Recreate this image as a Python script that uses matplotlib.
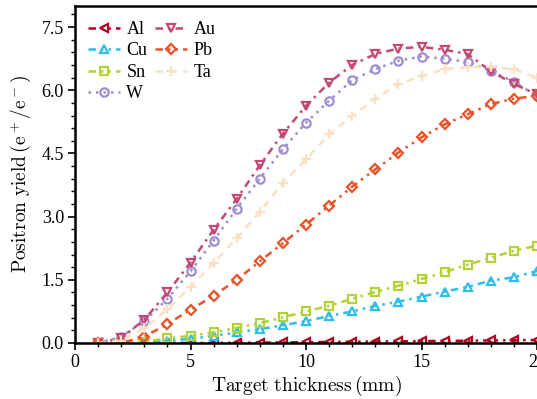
import matplotlib
matplotlib.use("Agg")
import matplotlib.pyplot as plt
from matplotlib.ticker import MultipleLocator

plt.rcParams['font.family'] = ['Liberation Serif', 'DejaVu Serif']
plt.rcParams['mathtext.fontset'] = 'cm'

thickness = list(range(1, 21))
al = [0, 0, 0, 0, 0, 0, 0.005, 0.01, 0.015, 0.02, 0.025, 0.03, 0.035, 0.04, 0.045, 0.05, 0.055, 0.06, 0.065, 0.07]
cu = [0, 0, 0.01, 0.05, 0.10, 0.17, 0.25, 0.33, 0.42, 0.52, 0.64, 0.75, 0.88, 0.98, 1.10, 1.22, 1.33, 1.48, 1.56, 1.71]
sn = [0, 0, 0.03, 0.11, 0.17, 0.25, 0.36, 0.47, 0.61, 0.75, 0.88, 1.05, 1.21, 1.36, 1.52, 1.68, 1.86, 2.02, 2.19, 2.31]
w = [0, 0.15, 0.51, 1.05, 1.70, 2.43, 3.19, 3.90, 4.60, 5.23, 5.75, 6.24, 6.50, 6.70, 6.80, 6.75, 6.67, 6.46, 6.20, 5.86]
au = [0, 0.12, 0.55, 1.20, 1.91, 2.69, 3.42, 4.22, 4.97, 5.63, 6.18, 6.60, 6.86, 6.99, 7.03, 6.96, 6.86, 6.45, 6.15, 5.90]
pb = [0, 0, 0.15, 0.45, 0.79, 1.12, 1.50, 1.94, 2.37, 2.81, 3.26, 3.71, 4.12, 4.52, 4.88, 5.19, 5.43, 5.67, 5.80, 5.87]
ta = [0, 0.05, 0.35, 0.80, 1.33, 1.90, 2.49, 3.11, 3.80, 4.36, 4.95, 5.39, 5.80, 6.14, 6.34, 6.50, 6.55, 6.55, 6.50, 6.30]

series = [
    ("Al", al, '#b5001f', '<', (0, (3, 2, 1, 2, 1, 2))),
    ("Cu", cu, '#2fbdea', '^', (0, (3, 2, 1, 2, 1, 2))),
    ("Sn", sn, '#b2d236', 's', (0, (3, 2, 1, 2, 1, 2))),
    ("W", w, '#a08ccf', 'o', (0, (1, 2))),
    ("Au", au, '#c44873', 'v', (0, (3, 2, 1, 2))),
    ("Pb", pb, '#e8542a', 'D', (0, (3, 2, 1, 2, 1, 2))),
    ("Ta", ta, '#fbe0c4', '+', (0, (3, 2.5))),
]

fig = plt.figure(figsize=(5.37, 3.99), dpi=100)
ax = fig.add_axes([0.1397, 0.1404, 0.8603, 0.8446])

for name, vals, col, mk, ls in series:
    ms = 7 if mk == '+' else 6
    if mk == 'D':
        ms = 5
    ax.plot(thickness, vals, color=col, linestyle=ls, linewidth=1.8,
            marker=mk, markersize=ms, markerfacecolor='none',
            markeredgecolor=col, markeredgewidth=1.6, label=name)

ax.set_xlim(0, 20)
ax.set_ylim(0, 8.0)
ax.xaxis.set_major_locator(MultipleLocator(5))
ax.xaxis.set_minor_locator(MultipleLocator(1))
ax.yaxis.set_major_locator(MultipleLocator(1.5))
ax.yaxis.set_minor_locator(MultipleLocator(0.3))
ax.yaxis.set_major_formatter(matplotlib.ticker.FormatStrFormatter('%.1f'))

ax.tick_params(which='major', direction='out', length=5, width=1.2, labelsize=13, pad=3)
ax.tick_params(which='minor', direction='out', length=3, width=1.0)
ax.tick_params(top=False, right=False, which='both')

for s in ['left', 'bottom', 'top']:
    ax.spines[s].set_linewidth(1.8)
ax.spines['right'].set_visible(False)

ax.set_xlabel(r'$\mathrm{Target\ thickness\,(mm)}$', fontsize=14, labelpad=2)
ax.set_ylabel(r'$\mathrm{Positron\ yield\,(e^+/e^-)}$', fontsize=14, labelpad=6)

leg = ax.legend(ncol=2, loc='upper left', frameon=False, fontsize=13,
                handlelength=1.8, handletextpad=0.35, columnspacing=0.4,
                labelspacing=0.25, borderaxespad=0.5, bbox_to_anchor=(-0.008, 1.004))

fig.savefig('out.png', dpi=100)
